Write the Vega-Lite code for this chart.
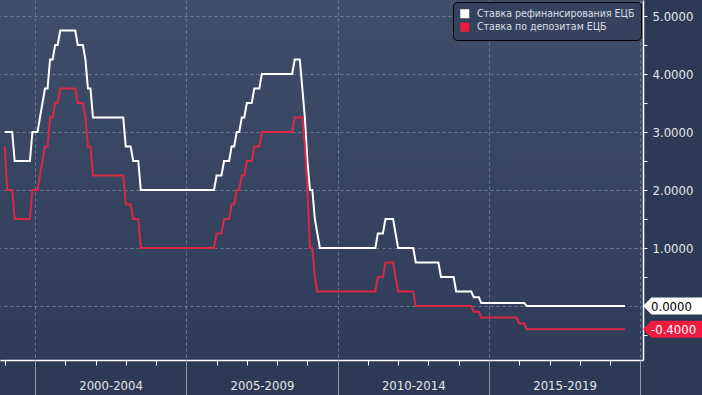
{
  "$schema": "https://vega.github.io/schema/vega-lite/v6.json",
  "width": 643,
  "height": 360,
  "padding": {"left": 0, "top": 0, "right": 59, "bottom": 35},
  "autosize": {"type": "none"},
  "background": "#2c3a56",
  "config": {
    "font": "DejaVu Sans Condensed, DejaVu Sans, sans-serif",
    "view": {
      "stroke": null,
      "fill": {"gradient": "linear", "x1": 0, "y1": 0, "x2": 0, "y2": 1, "stops": [{"offset": 0, "color": "#3f4e69"}, {"offset": 1, "color": "#2e3c59"}]}
    }
  },
  "resolve": {"axis": {"x": "independent", "y": "independent"}},
  "layer": [
    {
      "data": {"values": [
        {"d":"1999-01-01","m":3,"p":2.75},{"d":"1999-02-01","m":3,"p":2},{"d":"1999-03-01","m":3,"p":2},{"d":"1999-04-01","m":3,"p":2},
        {"d":"1999-05-01","m":2.5,"p":1.5},{"d":"1999-06-01","m":2.5,"p":1.5},{"d":"1999-07-01","m":2.5,"p":1.5},{"d":"1999-08-01","m":2.5,"p":1.5},
        {"d":"1999-09-01","m":2.5,"p":1.5},{"d":"1999-10-01","m":2.5,"p":1.5},{"d":"1999-11-01","m":2.5,"p":1.5},{"d":"1999-12-01","m":3,"p":2},
        {"d":"2000-01-01","m":3,"p":2},{"d":"2000-02-01","m":3,"p":2},{"d":"2000-03-01","m":3.25,"p":2.25},{"d":"2000-04-01","m":3.5,"p":2.5},
        {"d":"2000-05-01","m":3.75,"p":2.75},{"d":"2000-06-01","m":3.75,"p":2.75},{"d":"2000-07-01","m":4.25,"p":3.25},{"d":"2000-08-01","m":4.25,"p":3.25},
        {"d":"2000-09-01","m":4.5,"p":3.5},{"d":"2000-10-01","m":4.5,"p":3.5},{"d":"2000-11-01","m":4.75,"p":3.75},{"d":"2000-12-01","m":4.75,"p":3.75},
        {"d":"2001-01-01","m":4.75,"p":3.75},{"d":"2001-02-01","m":4.75,"p":3.75},{"d":"2001-03-01","m":4.75,"p":3.75},{"d":"2001-04-01","m":4.75,"p":3.75},
        {"d":"2001-05-01","m":4.75,"p":3.75},{"d":"2001-06-01","m":4.5,"p":3.5},{"d":"2001-07-01","m":4.5,"p":3.5},{"d":"2001-08-01","m":4.5,"p":3.5},
        {"d":"2001-09-01","m":4.25,"p":3.25},{"d":"2001-10-01","m":3.75,"p":2.75},{"d":"2001-11-01","m":3.75,"p":2.75},{"d":"2001-12-01","m":3.25,"p":2.25},
        {"d":"2002-01-01","m":3.25,"p":2.25},{"d":"2002-02-01","m":3.25,"p":2.25},{"d":"2002-03-01","m":3.25,"p":2.25},{"d":"2002-04-01","m":3.25,"p":2.25},
        {"d":"2002-05-01","m":3.25,"p":2.25},{"d":"2002-06-01","m":3.25,"p":2.25},{"d":"2002-07-01","m":3.25,"p":2.25},{"d":"2002-08-01","m":3.25,"p":2.25},
        {"d":"2002-09-01","m":3.25,"p":2.25},{"d":"2002-10-01","m":3.25,"p":2.25},{"d":"2002-11-01","m":3.25,"p":2.25},{"d":"2002-12-01","m":3.25,"p":2.25},
        {"d":"2003-01-01","m":2.75,"p":1.75},{"d":"2003-02-01","m":2.75,"p":1.75},{"d":"2003-03-01","m":2.75,"p":1.75},{"d":"2003-04-01","m":2.5,"p":1.5},
        {"d":"2003-05-01","m":2.5,"p":1.5},{"d":"2003-06-01","m":2.5,"p":1.5},{"d":"2003-07-01","m":2,"p":1},{"d":"2003-08-01","m":2,"p":1},
        {"d":"2003-09-01","m":2,"p":1},{"d":"2003-10-01","m":2,"p":1},{"d":"2003-11-01","m":2,"p":1},{"d":"2003-12-01","m":2,"p":1},
        {"d":"2004-01-01","m":2,"p":1},{"d":"2004-02-01","m":2,"p":1},{"d":"2004-03-01","m":2,"p":1},{"d":"2004-04-01","m":2,"p":1},
        {"d":"2004-05-01","m":2,"p":1},{"d":"2004-06-01","m":2,"p":1},{"d":"2004-07-01","m":2,"p":1},{"d":"2004-08-01","m":2,"p":1},
        {"d":"2004-09-01","m":2,"p":1},{"d":"2004-10-01","m":2,"p":1},{"d":"2004-11-01","m":2,"p":1},{"d":"2004-12-01","m":2,"p":1},
        {"d":"2005-01-01","m":2,"p":1},{"d":"2005-02-01","m":2,"p":1},{"d":"2005-03-01","m":2,"p":1},{"d":"2005-04-01","m":2,"p":1},
        {"d":"2005-05-01","m":2,"p":1},{"d":"2005-06-01","m":2,"p":1},{"d":"2005-07-01","m":2,"p":1},{"d":"2005-08-01","m":2,"p":1},
        {"d":"2005-09-01","m":2,"p":1},{"d":"2005-10-01","m":2,"p":1},{"d":"2005-11-01","m":2,"p":1},{"d":"2005-12-01","m":2,"p":1},
        {"d":"2006-01-01","m":2.25,"p":1.25},{"d":"2006-02-01","m":2.25,"p":1.25},{"d":"2006-03-01","m":2.25,"p":1.25},{"d":"2006-04-01","m":2.5,"p":1.5},
        {"d":"2006-05-01","m":2.5,"p":1.5},{"d":"2006-06-01","m":2.5,"p":1.5},{"d":"2006-07-01","m":2.75,"p":1.75},{"d":"2006-08-01","m":2.75,"p":1.75},
        {"d":"2006-09-01","m":3,"p":2},{"d":"2006-10-01","m":3,"p":2},{"d":"2006-11-01","m":3.25,"p":2.25},{"d":"2006-12-01","m":3.25,"p":2.25},
        {"d":"2007-01-01","m":3.5,"p":2.5},{"d":"2007-02-01","m":3.5,"p":2.5},{"d":"2007-03-01","m":3.5,"p":2.5},{"d":"2007-04-01","m":3.75,"p":2.75},
        {"d":"2007-05-01","m":3.75,"p":2.75},{"d":"2007-06-01","m":3.75,"p":2.75},{"d":"2007-07-01","m":4,"p":3},{"d":"2007-08-01","m":4,"p":3},
        {"d":"2007-09-01","m":4,"p":3},{"d":"2007-10-01","m":4,"p":3},{"d":"2007-11-01","m":4,"p":3},{"d":"2007-12-01","m":4,"p":3},
        {"d":"2008-01-01","m":4,"p":3},{"d":"2008-02-01","m":4,"p":3},{"d":"2008-03-01","m":4,"p":3},{"d":"2008-04-01","m":4,"p":3},
        {"d":"2008-05-01","m":4,"p":3},{"d":"2008-06-01","m":4,"p":3},{"d":"2008-07-01","m":4,"p":3},{"d":"2008-08-01","m":4.25,"p":3.25},
        {"d":"2008-09-01","m":4.25,"p":3.25},{"d":"2008-10-01","m":4.25,"p":3.25},{"d":"2008-11-01","m":3.75,"p":3.25},{"d":"2008-12-01","m":3.25,"p":2.75},
        {"d":"2009-01-01","m":2.5,"p":2},{"d":"2009-02-01","m":2,"p":1},{"d":"2009-03-01","m":2,"p":1},{"d":"2009-04-01","m":1.5,"p":0.5},
        {"d":"2009-05-01","m":1.25,"p":0.25},{"d":"2009-06-01","m":1,"p":0.25},{"d":"2009-07-01","m":1,"p":0.25},{"d":"2009-08-01","m":1,"p":0.25},
        {"d":"2009-09-01","m":1,"p":0.25},{"d":"2009-10-01","m":1,"p":0.25},{"d":"2009-11-01","m":1,"p":0.25},{"d":"2009-12-01","m":1,"p":0.25},
        {"d":"2010-01-01","m":1,"p":0.25},{"d":"2010-02-01","m":1,"p":0.25},{"d":"2010-03-01","m":1,"p":0.25},{"d":"2010-04-01","m":1,"p":0.25},
        {"d":"2010-05-01","m":1,"p":0.25},{"d":"2010-06-01","m":1,"p":0.25},{"d":"2010-07-01","m":1,"p":0.25},{"d":"2010-08-01","m":1,"p":0.25},
        {"d":"2010-09-01","m":1,"p":0.25},{"d":"2010-10-01","m":1,"p":0.25},{"d":"2010-11-01","m":1,"p":0.25},{"d":"2010-12-01","m":1,"p":0.25},
        {"d":"2011-01-01","m":1,"p":0.25},{"d":"2011-02-01","m":1,"p":0.25},{"d":"2011-03-01","m":1,"p":0.25},{"d":"2011-04-01","m":1,"p":0.25},
        {"d":"2011-05-01","m":1.25,"p":0.5},{"d":"2011-06-01","m":1.25,"p":0.5},{"d":"2011-07-01","m":1.25,"p":0.5},{"d":"2011-08-01","m":1.5,"p":0.75},
        {"d":"2011-09-01","m":1.5,"p":0.75},{"d":"2011-10-01","m":1.5,"p":0.75},{"d":"2011-11-01","m":1.5,"p":0.75},{"d":"2011-12-01","m":1.25,"p":0.5},
        {"d":"2012-01-01","m":1,"p":0.25},{"d":"2012-02-01","m":1,"p":0.25},{"d":"2012-03-01","m":1,"p":0.25},{"d":"2012-04-01","m":1,"p":0.25},
        {"d":"2012-05-01","m":1,"p":0.25},{"d":"2012-06-01","m":1,"p":0.25},{"d":"2012-07-01","m":1,"p":0.25},{"d":"2012-08-01","m":0.75,"p":0},
        {"d":"2012-09-01","m":0.75,"p":0},{"d":"2012-10-01","m":0.75,"p":0},{"d":"2012-11-01","m":0.75,"p":0},{"d":"2012-12-01","m":0.75,"p":0},
        {"d":"2013-01-01","m":0.75,"p":0},{"d":"2013-02-01","m":0.75,"p":0},{"d":"2013-03-01","m":0.75,"p":0},{"d":"2013-04-01","m":0.75,"p":0},
        {"d":"2013-05-01","m":0.75,"p":0},{"d":"2013-06-01","m":0.5,"p":0},{"d":"2013-07-01","m":0.5,"p":0},{"d":"2013-08-01","m":0.5,"p":0},
        {"d":"2013-09-01","m":0.5,"p":0},{"d":"2013-10-01","m":0.5,"p":0},{"d":"2013-11-01","m":0.5,"p":0},{"d":"2013-12-01","m":0.25,"p":0},
        {"d":"2014-01-01","m":0.25,"p":0},{"d":"2014-02-01","m":0.25,"p":0},{"d":"2014-03-01","m":0.25,"p":0},{"d":"2014-04-01","m":0.25,"p":0},
        {"d":"2014-05-01","m":0.25,"p":0},{"d":"2014-06-01","m":0.25,"p":0},{"d":"2014-07-01","m":0.15,"p":-0.1},{"d":"2014-08-01","m":0.15,"p":-0.1},
        {"d":"2014-09-01","m":0.15,"p":-0.1},{"d":"2014-10-01","m":0.05,"p":-0.2},{"d":"2014-11-01","m":0.05,"p":-0.2},{"d":"2014-12-01","m":0.05,"p":-0.2},
        {"d":"2015-01-01","m":0.05,"p":-0.2},{"d":"2015-02-01","m":0.05,"p":-0.2},{"d":"2015-03-01","m":0.05,"p":-0.2},{"d":"2015-04-01","m":0.05,"p":-0.2},
        {"d":"2015-05-01","m":0.05,"p":-0.2},{"d":"2015-06-01","m":0.05,"p":-0.2},{"d":"2015-07-01","m":0.05,"p":-0.2},{"d":"2015-08-01","m":0.05,"p":-0.2},
        {"d":"2015-09-01","m":0.05,"p":-0.2},{"d":"2015-10-01","m":0.05,"p":-0.2},{"d":"2015-11-01","m":0.05,"p":-0.2},{"d":"2015-12-01","m":0.05,"p":-0.2},
        {"d":"2016-01-01","m":0.05,"p":-0.3},{"d":"2016-02-01","m":0.05,"p":-0.3},{"d":"2016-03-01","m":0.05,"p":-0.3},{"d":"2016-04-01","m":0,"p":-0.4},
        {"d":"2016-05-01","m":0,"p":-0.4},{"d":"2016-06-01","m":0,"p":-0.4},{"d":"2016-07-01","m":0,"p":-0.4},{"d":"2016-08-01","m":0,"p":-0.4},
        {"d":"2016-09-01","m":0,"p":-0.4},{"d":"2016-10-01","m":0,"p":-0.4},{"d":"2016-11-01","m":0,"p":-0.4},{"d":"2016-12-01","m":0,"p":-0.4},
        {"d":"2017-01-01","m":0,"p":-0.4},{"d":"2017-02-01","m":0,"p":-0.4},{"d":"2017-03-01","m":0,"p":-0.4},{"d":"2017-04-01","m":0,"p":-0.4},
        {"d":"2017-05-01","m":0,"p":-0.4},{"d":"2017-06-01","m":0,"p":-0.4},{"d":"2017-07-01","m":0,"p":-0.4},{"d":"2017-08-01","m":0,"p":-0.4},
        {"d":"2017-09-01","m":0,"p":-0.4},{"d":"2017-10-01","m":0,"p":-0.4},{"d":"2017-11-01","m":0,"p":-0.4},{"d":"2017-12-01","m":0,"p":-0.4},
        {"d":"2018-01-01","m":0,"p":-0.4},{"d":"2018-02-01","m":0,"p":-0.4},{"d":"2018-03-01","m":0,"p":-0.4},{"d":"2018-04-01","m":0,"p":-0.4},
        {"d":"2018-05-01","m":0,"p":-0.4},{"d":"2018-06-01","m":0,"p":-0.4},{"d":"2018-07-01","m":0,"p":-0.4},{"d":"2018-08-01","m":0,"p":-0.4},
        {"d":"2018-09-01","m":0,"p":-0.4},{"d":"2018-10-01","m":0,"p":-0.4},{"d":"2018-11-01","m":0,"p":-0.4},{"d":"2018-12-01","m":0,"p":-0.4},
        {"d":"2019-01-01","m":0,"p":-0.4},{"d":"2019-02-01","m":0,"p":-0.4},{"d":"2019-03-01","m":0,"p":-0.4},{"d":"2019-04-01","m":0,"p":-0.4},
        {"d":"2019-05-01","m":0,"p":-0.4},{"d":"2019-06-01","m":0,"p":-0.4},{"d":"2019-07-01","m":0,"p":-0.4}
      ]},
      "transform": [{"fold": ["m", "p"], "as": ["s", "v"]}],
      "mark": {"type": "line", "strokeWidth": 2, "interpolate": "linear"},
      "encoding": {
        "x": {
          "field": "d", "type": "temporal",
          "scale": {"type": "utc", "domain": [{"year": 1998, "month": 11, "date": 5, "utc": true}, {"year": 2020, "month": 2, "date": 3, "utc": true}]},
          "axis": {
            "orient": "bottom", "title": null, "grid": false,
            "values": [{"year":1999,"utc":true},{"year":2000,"utc":true},{"year":2001,"utc":true},{"year":2002,"utc":true},{"year":2003,"utc":true},{"year":2004,"utc":true},{"year":2005,"utc":true},{"year":2006,"utc":true},{"year":2007,"utc":true},{"year":2008,"utc":true},{"year":2009,"utc":true},{"year":2010,"utc":true},{"year":2011,"utc":true},{"year":2012,"utc":true},{"year":2013,"utc":true},{"year":2014,"utc":true},{"year":2015,"utc":true},{"year":2016,"utc":true},{"year":2017,"utc":true},{"year":2018,"utc":true},{"year":2019,"utc":true}],
            "labelExpr": "utcyear(datum.value) % 5 == 0 ? utcyear(datum.value) + '-' + (utcyear(datum.value) + 4) : ''",
            "labelOffset": 75.6, "labelPadding": 14, "labelOverlap": false, "labelFlush": false, "labelBound": false,
            "labelColor": "#e4e6ea", "labelFontSize": 13, "labelFont": "DejaVu Sans Condensed, DejaVu Sans, sans-serif",
            "tickSize": 5, "tickColor": "#ffffff", "tickWidth": 1,
            "domainColor": "#ffffff", "domainWidth": 1.5
          }
        },
        "y": {
          "field": "v", "type": "quantitative",
          "scale": {"domain": [-0.931, 5.276], "nice": false, "zero": false},
          "axis": {
            "orient": "right", "title": null, "grid": false,
            "values": [-0.5, 0, 0.5, 1, 1.5, 2, 2.5, 3, 3.5, 4, 4.5, 5],
            "labelExpr": "(datum.value == 0 || datum.value == 1 || datum.value == 2 || datum.value == 3 || datum.value == 4 || datum.value == 5) ? format(datum.value, '.4f') : ''",
            "labelColor": "#e4e6ea", "labelFontSize": 13, "labelPadding": 5, "labelOverlap": false, "labelFlush": false, "labelBound": false,
            "labelFont": "DejaVu Sans Condensed, DejaVu Sans, sans-serif",
            "tickSize": 4, "tickColor": "#ffffff",
            "domainColor": "#ffffff", "domainWidth": 1.5
          }
        },
        "color": {
          "field": "s", "type": "nominal",
          "scale": {"domain": ["m", "p"], "range": ["#ffffff", "#dc2748"]},
          "legend": {
            "orient": "top-right", "offset": 2, "title": null,
            "fillColor": "#34425e", "strokeColor": "#000000", "cornerRadius": 4, "padding": 6.5,
            "symbolType": "square", "symbolSize": 81, "symbolStrokeWidth": 0,
            "labelColor": "#dcdfe6", "labelFontSize": 10.5, "labelLimit": 300, "labelFont": "DejaVu Sans Condensed, DejaVu Sans, sans-serif",
            "rowPadding": 2.5, "labelOffset": 7,
            "labelExpr": "datum.value == 'm' ? 'Ставка рефинансирования ЕЦБ' : 'Ставка по депозитам ЕЦБ'",
            "encode": {"symbols": {"update": {"fill": {"scale": "color", "field": "value"}, "opacity": {"value": 1}}}}
          }
        }
      }
    },
    {
      "data": {"values": [{"d": "2020-02-03", "v": 0, "s": "m", "t": "0.0000"}, {"d": "2020-02-03", "v": -0.4, "s": "p", "t": "-0.4000"}]},
      "mark": {"type": "point", "shape": "M0,0L0.85,-0.85L6.2,-0.85L6.2,0.85L0.85,0.85Z", "size": 400, "filled": true, "opacity": 1, "strokeWidth": 0},
      "encoding": {
        "x": {
          "field": "d", "type": "temporal",
          "axis": {
            "orient": "bottom", "title": null, "labels": false, "domain": false,
            "values": [{"year":2000,"utc":true},{"year":2005,"utc":true},{"year":2010,"utc":true},{"year":2015,"utc":true},{"year":2020,"utc":true}],
            "tickSize": 35, "tickColor": "#8e9ab0", "tickWidth": 1,
            "grid": true, "gridColor": "#6a7b95", "gridDash": [3, 3], "gridWidth": 1
          }
        },
        "y": {
          "field": "v", "type": "quantitative",
          "axis": {
            "orient": "right", "title": null, "labels": false, "ticks": false, "domain": false,
            "values": [0, 1, 2, 3, 4, 5],
            "grid": true, "gridColor": "#6a7b95", "gridDash": [3, 3], "gridWidth": 1
          }
        },
        "fill": {"field": "s", "type": "nominal", "scale": {"domain": ["m", "p"], "range": ["#ffffff", "#ee1d40"]}, "legend": null}
      }
    },
    {
      "data": {"values": [{"d": "2020-02-03", "v": 0, "s": "m", "t": "0.0000"}, {"d": "2020-02-03", "v": -0.4, "s": "p", "t": "-0.4000"}]},
      "mark": {"type": "text", "align": "left", "baseline": "middle", "dx": 8, "dy": 1, "fontSize": 13, "font": "DejaVu Sans Condensed, DejaVu Sans, sans-serif"},
      "encoding": {
        "x": {"field": "d", "type": "temporal", "axis": null},
        "y": {"field": "v", "type": "quantitative", "axis": null},
        "text": {"field": "t"},
        "color": {"condition": {"test": "datum.s == 'm'", "value": "#000000"}, "value": "#ffffff"}
      }
    }
  ]
}
